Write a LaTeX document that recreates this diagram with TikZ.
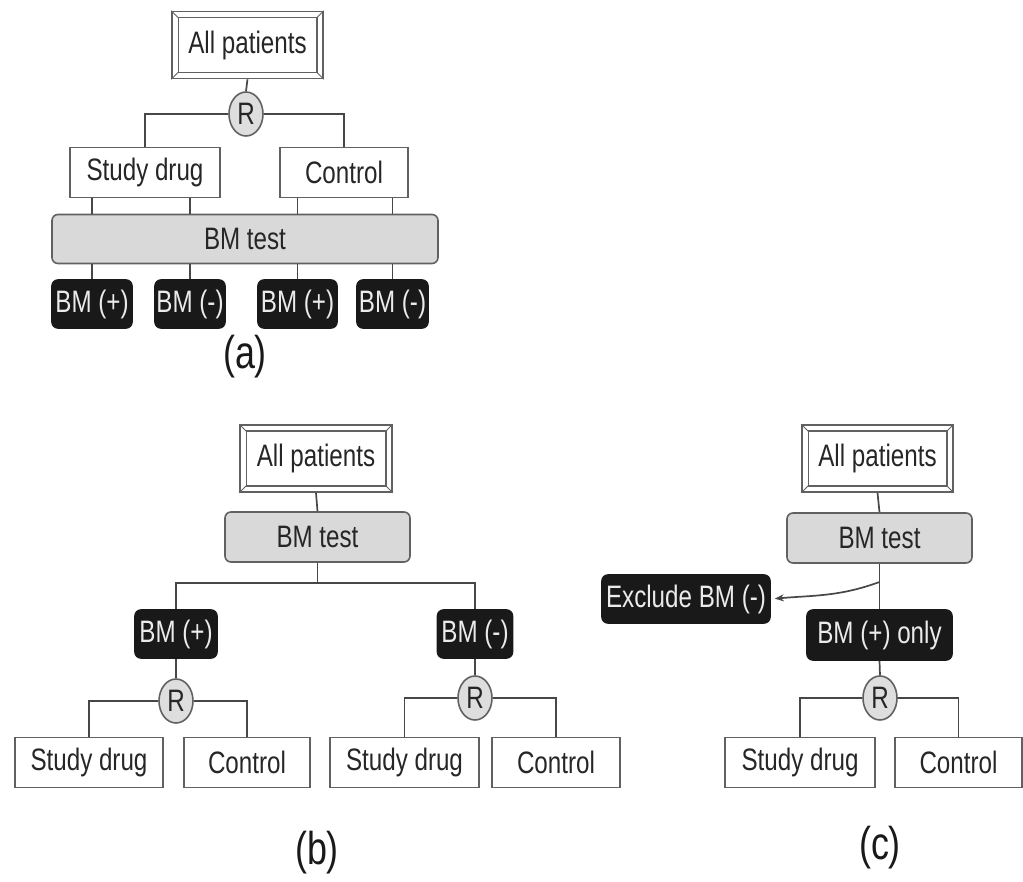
\documentclass[tikz,border=0pt]{standalone}
\usepackage{fontspec}
\setmainfont{Liberation Sans}[FakeStretch=0.78]
\usetikzlibrary{shapes.geometric,arrows.meta}
\begin{document}
\begin{tikzpicture}[x=1pt,y=-1pt,
  conn/.style={draw=black!72, line width=1.7pt},
  box/.style={draw=black!62, line width=1.6pt, fill=white, text=black!85, inner sep=0pt,
              font=\fontsize{31}{34}\selectfont},
  wbox/.style={box, minimum height=50pt},
  framebox/.style={box, minimum width=151pt, minimum height=67pt},
  testbox/.style={box, fill=black!15, rounded corners=6pt, minimum height=49pt},
  bmbox/.style={box, draw=black!90, fill=black!90, text=black!8, rounded corners=6pt, minimum height=48pt},
  rnode/.style={ellipse, draw=black!62, fill=black!13, line width=1.6pt, minimum width=34pt,
                minimum height=44pt, inner sep=0pt, text=black!85, font=\fontsize{31}{34}\selectfont},
  lab/.style={font=\fontsize{46}{50}\selectfont, text=black!90}
]
\useasboundingbox (0,0) rectangle (1023,882);

% ---------- (a) ----------
\node[framebox] (aall) at (247.5,45) {All patients};
\node[rnode] (ar) at (246,114) {R};
\node[wbox, minimum width=150pt] (asd) at (145,172.5) {Study drug};
\node[wbox, minimum width=128pt] (acon) at (344,172.5) {Control};
\node[testbox, minimum width=386pt] (atest) at (245,239) {BM test};
\node[bmbox, minimum width=80pt] (ap1) at (92,304) {BM (+)};
\node[bmbox, minimum width=70pt] (am1) at (190,304) {BM (-)};
\node[bmbox, minimum width=79pt] (ap2) at (297.5,304) {BM (+)};
\node[bmbox, minimum width=71pt] (am2) at (392.5,304) {BM (-)};
\node[lab] (alab) at (245,357) {(a)};

\draw[conn] (aall.south) -- (ar.north);
\draw[conn] (asd.north) |- (ar.west);
\draw[conn] (acon.north) |- (ar.east);
\draw[conn] (ap1.north |- asd.south) -- (ap1.north |- atest.north);
\draw[conn] (am1.north |- asd.south) -- (am1.north |- atest.north);
\draw[conn] (ap2.north |- acon.south) -- (ap2.north |- atest.north);
\draw[conn] (am2.north |- acon.south) -- (am2.north |- atest.north);
\draw[conn] (ap1.north) -- (ap1.north |- atest.south);
\draw[conn] (am1.north) -- (am1.north |- atest.south);
\draw[conn] (ap2.north) -- (ap2.north |- atest.south);
\draw[conn] (am2.north) -- (am2.north |- atest.south);

% ---------- (b) ----------
\node[framebox, minimum width=152pt] (ball) at (316,458.5) {All patients};
\node[testbox, minimum width=185pt, minimum height=50pt] (btest) at (317.5,537) {BM test};
\node[bmbox, minimum width=82pt] (bp) at (176,634) {BM (+)};
\node[bmbox, minimum width=75pt] (bm) at (475,634) {BM (-)};
\node[rnode] (br1) at (176,701) {R};
\node[rnode] (br2) at (475,698) {R};
\node[wbox, minimum width=148pt] (bsd1) at (89,762.5) {Study drug};
\node[wbox, minimum width=126pt] (bcon1) at (247,762.5) {Control};
\node[wbox, minimum width=149pt] (bsd2) at (404.5,762.5) {Study drug};
\node[wbox, minimum width=128pt] (bcon2) at (556,762.5) {Control};
\node[lab] (blab) at (317,853) {(b)};
\coordinate (bsplit) at (317.5,583);

\draw[conn] (ball.south) -- (btest.north);
\draw[conn] (btest.south) -- (bsplit);
\draw[conn] (bsplit) -| (bp.north);
\draw[conn] (bsplit) -| (bm.north);
\draw[conn] (bp.south) -- (br1.north);
\draw[conn] (bm.south) -- (br2.north);
\draw[conn] (bsd1.north) |- (br1.west);
\draw[conn] (bcon1.north) |- (br1.east);
\draw[conn] (bsd2.north) |- (br2.west);
\draw[conn] (bcon2.north) |- (br2.east);

% ---------- (c) ----------
\node[framebox] (call) at (877.5,458.5) {All patients};
\node[testbox, minimum width=185pt, minimum height=50pt] (ctest) at (879.5,538) {BM test};
\node[bmbox, minimum width=168pt] (cexc) at (686,599) {Exclude BM (-)};
\node[bmbox, minimum width=145pt, minimum height=50pt] (conly) at (879.5,635) {BM (+) only};
\node[rnode] (cr) at (880,698) {R};
\node[wbox, minimum width=150pt] (csd) at (800,762.5) {Study drug};
\node[wbox, minimum width=127pt] (ccon) at (958.5,762.5) {Control};
\node[lab] (clab) at (880,848) {(c)};
\coordinate (cx) at (879.5,582);

\draw[conn] (call.south) -- (ctest.north);
\draw[conn] (ctest.south) -- (conly.north);
\draw[conn, -{Stealth[length=9pt,width=7pt]}, shorten >=4pt] (cx) to[out=200,in=5] (cexc.east);
\draw[conn] (conly.south) -- (cr.north);
\draw[conn] (csd.north) |- (cr.west);
\draw[conn] (ccon.north) |- (cr.east);

% ---------- inner frames of the "All patients" boxes ----------
\foreach \n in {aall,ball,call}{
  \draw[draw=black!62, line width=1.4pt] ([shift={(7,7)}]\n.north west) rectangle ([shift={(-7,-7)}]\n.south east);
  \draw[draw=black!62, line width=1pt] (\n.north west) -- ([shift={(7,7)}]\n.north west);
  \draw[draw=black!62, line width=1pt] (\n.north east) -- ([shift={(-7,7)}]\n.north east);
  \draw[draw=black!62, line width=1pt] (\n.south west) -- ([shift={(7,-7)}]\n.south west);
  \draw[draw=black!62, line width=1pt] (\n.south east) -- ([shift={(-7,-7)}]\n.south east);
}
\end{tikzpicture}
\end{document}
